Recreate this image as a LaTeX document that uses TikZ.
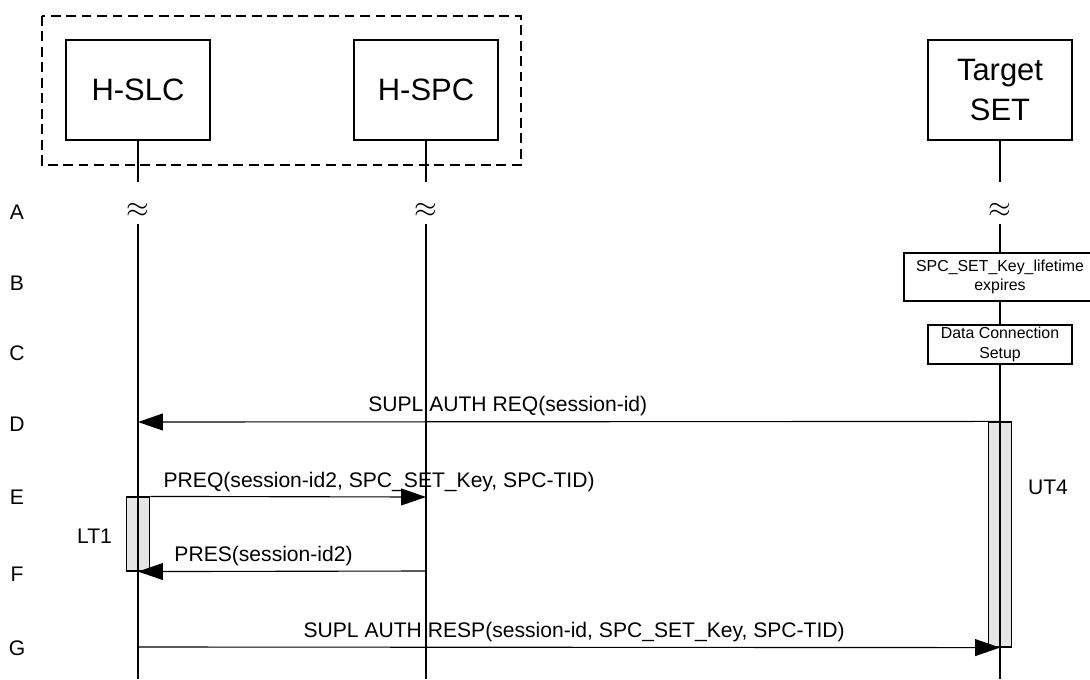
\documentclass[tikz,border=0pt]{standalone}
\usepackage{fontspec}
\setmainfont{Liberation Sans}
\usetikzlibrary{arrows.meta, positioning}
\tikzset{entity/.style={draw, fill=white, align=center, minimum width=3.6cm, minimum height=2.5cm,
		font=\fontsize{22}{28}\selectfont},
	groupbox/.style={dash pattern=on 7pt off 4pt},
	action/.style={draw, fill=white, align=center, inner sep=1pt, font=\fontsize{11.3}{14}\selectfont},
	actbar/.style={draw, fill=gray!20, minimum width=0.59cm, inner sep=0pt},
	msg/.style={-{Triangle[length=0.62cm,width=0.42cm]}},
	msglabel/.style={above, inner sep=3.5pt, font=\fontsize{15}{18}\selectfont},
	rowlabel/.style={font=\fontsize{15}{18}\selectfont},
	gapmark/.style={inner sep=0pt, font=\fontsize{22}{26}\selectfont}
}
\begin{document}
\begin{tikzpicture}[x=0.025cm, y=-0.025cm, line width=0.8pt]
\useasboundingbox (0,0) rectangle (1090,679);

\draw[groupbox] (42,16) rectangle (521,165);

\node[entity] (hslc) at (138,90) {H-SLC};
\node[entity] (hspc) at (426,90) {H-SPC};
\node[entity] (tset) at (1000,90) {Target\\SET};

% row letters
\node[rowlabel] (rA) at (17,212) {A};
\node[rowlabel] (rB) at (17,283) {B};
\node[rowlabel] (rC) at (17,353) {C};
\node[rowlabel] (rD) at (17,424) {D};
\node[rowlabel] (rE) at (17,497) {E};
\node[rowlabel] (rF) at (17,574) {F};
\node[rowlabel] (rG) at (17,648) {G};

% activation bars
\node[actbar, minimum height=1.85cm] (lt1) at (138,534) {};
\node[actbar, minimum height=5.625cm] (ut4) at (1000,534.5) {};
\node[rowlabel] (lt1txt) at (94.5,536) {LT1};
\node[rowlabel] (ut4txt) at (1048,487) {UT4};

% lifelines
\coordinate (slcA) at (138,182);  \coordinate (slcB) at (138,224);  \coordinate (slcEnd) at (138,679);
\coordinate (spcA) at (426,182);  \coordinate (spcB) at (426,224);  \coordinate (spcEnd) at (426,679);
\coordinate (setA) at (1000,182); \coordinate (setB) at (1000,224); \coordinate (setEnd) at (1000,679);
\node[gapmark] (slcGap) at (138,210) {$\approx$};
\node[gapmark] (spcGap) at (426,210) {$\approx$};
\node[gapmark] (setGap) at (1000,210) {$\approx$};
\draw (hslc.south) -- (slcA);
\draw (hspc.south) -- (spcA);
\draw (tset.south) -- (setA);
\draw (slcB) -- (slcEnd);
\draw (spcB) -- (spcEnd);
\draw (setB) -- (setEnd);

\node[action, minimum width=4.8cm, minimum height=1.2cm] (keyexp) at (1000,277) {SPC\_SET\_Key\_lifetime\\expires};
\node[action, minimum width=3.6cm, minimum height=0.975cm] (dcs) at (1000,344.5) {Data Connection\\Setup};

% messages
\coordinate (slcD) at (138,422);
\coordinate (spcE) at (426,497);
\coordinate (spcF) at (426,571);
\coordinate (slcG) at (138,647);
\draw[msg] (ut4.north) -- node[msglabel, pos=0.571] {SUPL AUTH REQ(session-id)} (slcD);
\draw[msg] (lt1.north east) -- node[msglabel, pos=0.83] {PREQ(session-id2, SPC\_SET\_Key, SPC-TID)} (spcE);
\draw[msg] (spcF) -- node[msglabel, pos=0.564] {PRES(session-id2)} (lt1.south);
\draw[msg] (slcG) -- node[msglabel, pos=0.506] {SUPL AUTH RESP(session-id, SPC\_SET\_Key, SPC-TID)} (ut4.south);
\end{tikzpicture}
\end{document}
